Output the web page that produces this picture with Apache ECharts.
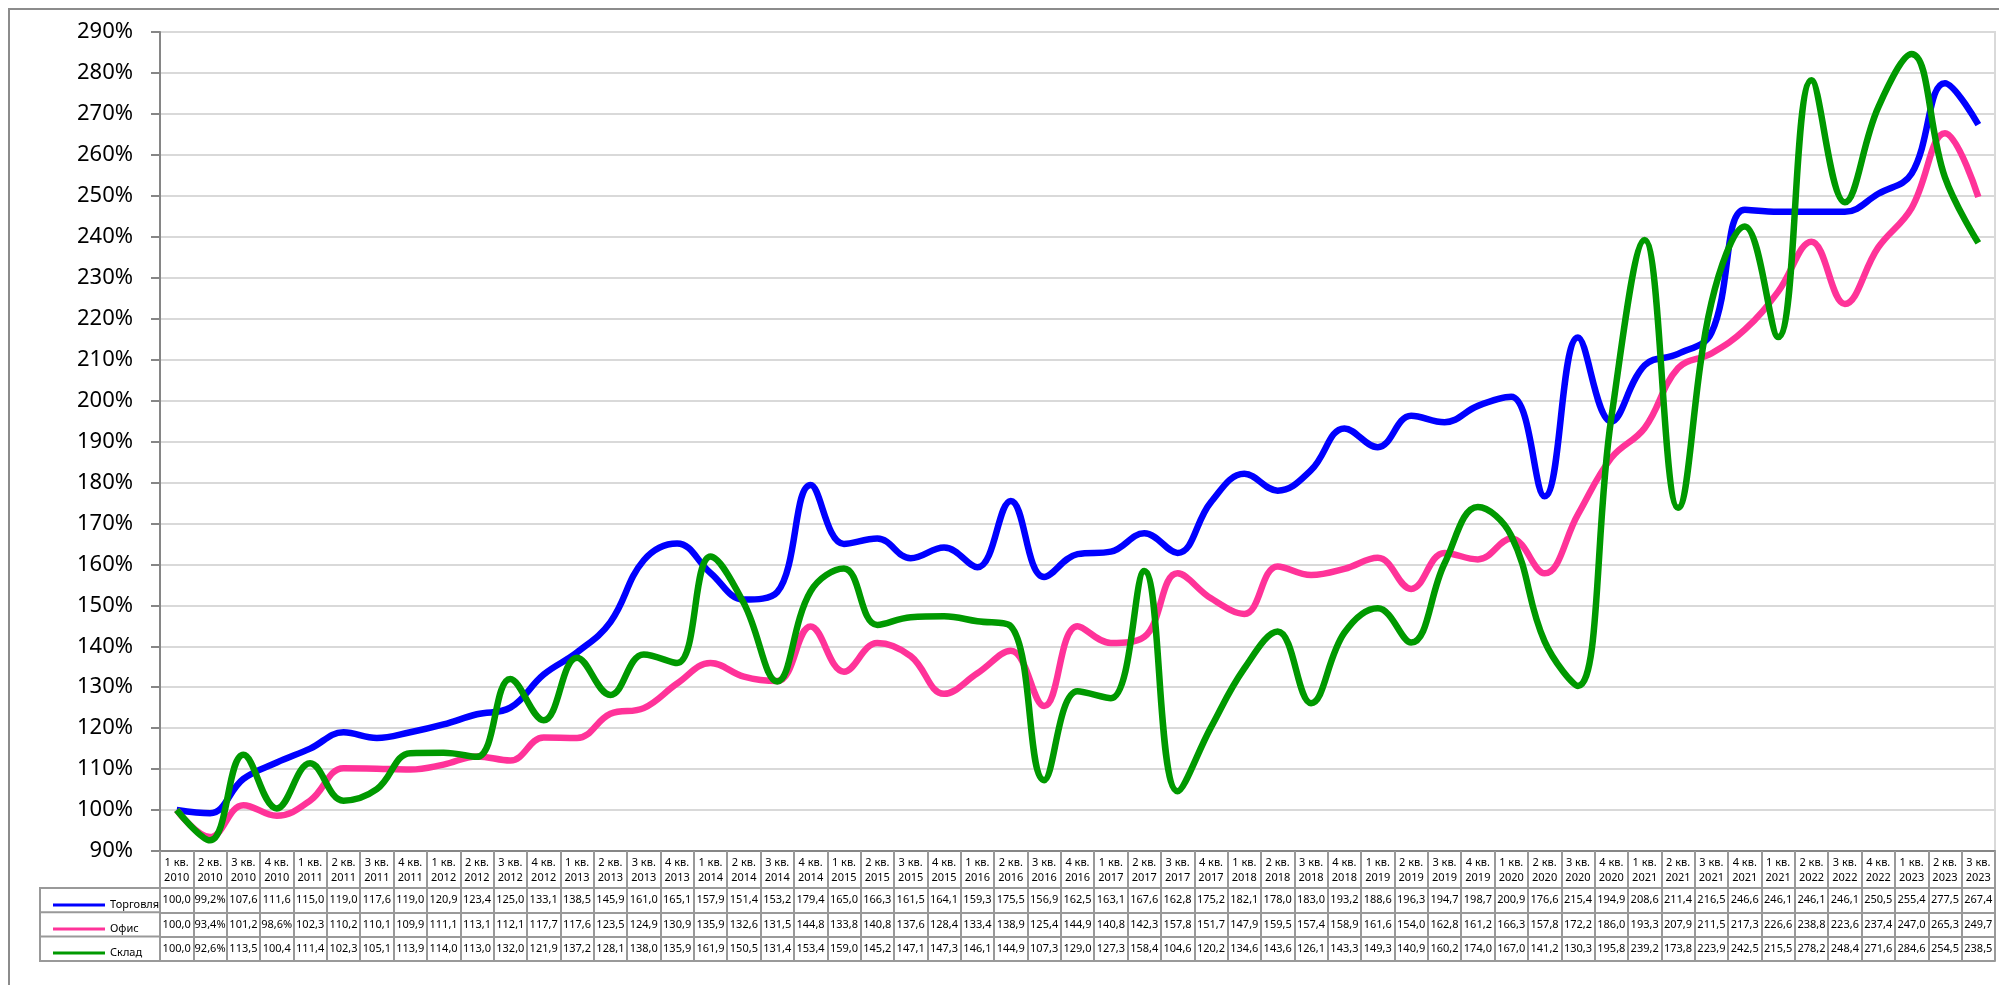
<!DOCTYPE html>
<html lang="ru">
<head>
<meta charset="utf-8">
<title>Индексы стоимости: торговля, офис, склад</title>
<script src="https://cdn.jsdelivr.net/npm/echarts@6/dist/echarts.min.js"></script>
<style>
  html, body { margin: 0; padding: 0; background: #fff; }
  #chart { width: 1999px; height: 985px; }
</style>
</head>
<body>
<div id="chart"></div>
<script>
const CATEGORIES = [
  "1 кв. 2010", "2 кв. 2010", "3 кв. 2010", "4 кв. 2010",
  "1 кв. 2011", "2 кв. 2011", "3 кв. 2011", "4 кв. 2011",
  "1 кв. 2012", "2 кв. 2012", "3 кв. 2012", "4 кв. 2012",
  "1 кв. 2013", "2 кв. 2013", "3 кв. 2013", "4 кв. 2013",
  "1 кв. 2014", "2 кв. 2014", "3 кв. 2014", "4 кв. 2014",
  "1 кв. 2015", "2 кв. 2015", "3 кв. 2015", "4 кв. 2015",
  "1 кв. 2016", "2 кв. 2016", "3 кв. 2016", "4 кв. 2016",
  "1 кв. 2017", "2 кв. 2017", "3 кв. 2017", "4 кв. 2017",
  "1 кв. 2018", "2 кв. 2018", "3 кв. 2018", "4 кв. 2018",
  "1 кв. 2019", "2 кв. 2019", "3 кв. 2019", "4 кв. 2019",
  "1 кв. 2020", "2 кв. 2020", "3 кв. 2020", "4 кв. 2020",
  "1 кв. 2021", "2 кв. 2021", "3 кв. 2021", "4 кв. 2021",
  "1 кв. 2021", "2 кв. 2022", "3 кв. 2022", "4 кв. 2022",
  "1 кв. 2023", "2 кв. 2023", "3 кв. 2023",
];

const SERIES_NAMES = ["Торговля", "Офис", "Склад"];

const TRADE = [
  100.0, 99.2, 107.6, 111.6, 115.0, 119.0, 117.6, 119.0,
  120.9, 123.4, 125.0, 133.1, 138.5, 145.9, 161.0, 165.1,
  157.9, 151.4, 153.2, 179.4, 165.0, 166.3, 161.5, 164.1,
  159.3, 175.5, 156.9, 162.5, 163.1, 167.6, 162.8, 175.2,
  182.1, 178.0, 183.0, 193.2, 188.6, 196.3, 194.7, 198.7,
  200.9, 176.6, 215.4, 194.9, 208.6, 211.4, 216.5, 246.6,
  246.1, 246.1, 246.1, 250.5, 255.4, 277.5, 267.4,
];

const OFFICE = [
  100.0, 93.4, 101.2, 98.6, 102.3, 110.2, 110.1, 109.9,
  111.1, 113.1, 112.1, 117.7, 117.6, 123.5, 124.9, 130.9,
  135.9, 132.6, 131.5, 144.8, 133.8, 140.8, 137.6, 128.4,
  133.4, 138.9, 125.4, 144.9, 140.8, 142.3, 157.8, 151.7,
  147.9, 159.5, 157.4, 158.9, 161.6, 154.0, 162.8, 161.2,
  166.3, 157.8, 172.2, 186.0, 193.3, 207.9, 211.5, 217.3,
  226.6, 238.8, 223.6, 237.4, 247.0, 265.3, 249.7,
];

const WAREHOUSE = [
  100.0, 92.6, 113.5, 100.4, 111.4, 102.3, 105.1, 113.9,
  114.0, 113.0, 132.0, 121.9, 137.2, 128.1, 138.0, 135.9,
  161.9, 150.5, 131.4, 153.4, 159.0, 145.2, 147.1, 147.3,
  146.1, 144.9, 107.3, 129.0, 127.3, 158.4, 104.6, 120.2,
  134.6, 143.6, 126.1, 143.3, 149.3, 140.9, 160.2, 174.0,
  167.0, 141.2, 130.3, 195.8, 239.2, 173.8, 223.9, 242.5,
  215.5, 278.2, 248.4, 271.6, 284.6, 254.5, 238.5,
];

const SERIES_VALUES = [TRADE, OFFICE, WAREHOUSE];
const SERIES_COLORS = ["#0000ff", "#ff3399", "#009900"];

const Y_MIN = 90;
const Y_MAX = 290;
const Y_STEP = 10;

const FONT = "'Noto Sans', 'DejaVu Sans', sans-serif";
const AXIS_GRAY = "#868686";
const GRID_GRAY = "#d9d9d9";
const CELL_GRAY = "#999999";

// layout of the plot and the data table under it
const GRID_LEFT = 160;
const GRID_RIGHT = 4;
const GRID_TOP = 32;
const GRID_BOTTOM = 134;
const HEADER_H = 37;
const ROW_H = 24.3;
const LEGEND_COL_X = 40;

function formatCell(value) {
  const text = value.toFixed(1).replace(".", ",");
  return value < 100 ? `${text}%` : text;
}

function headerLabel(value) {
  return value.replace(/ (\d{4})$/, "\n$1");
}

function rowAxis(offset, values, withLabels) {
  return {
    type: "category",
    data: CATEGORIES,
    position: "bottom",
    offset,
    axisLine: { show: true, lineStyle: { color: CELL_GRAY, width: 2 } },
    axisTick: {
      show: withLabels,
      interval: 0,
      length: ROW_H,
      lineStyle: { color: CELL_GRAY, width: 2 },
    },
    axisLabel: {
      show: withLabels,
      interval: 0,
      margin: ROW_H / 2,
      verticalAlign: "middle",
      fontFamily: FONT,
      fontSize: 11,
      color: "#000",
      formatter: (value, index) => (values ? formatCell(values[index]) : ""),
    },
    splitLine: { show: false },
  };
}

const chartHeight = 985;
const tableTop = chartHeight - GRID_BOTTOM + HEADER_H;

const chart = echarts.init(document.getElementById("chart"), null, { renderer: "canvas" });

chart.setOption({
  animation: false,
  backgroundColor: "#fff",
  textStyle: { fontFamily: FONT },
  grid: {
    left: GRID_LEFT,
    right: GRID_RIGHT,
    top: GRID_TOP,
    bottom: GRID_BOTTOM,
    show: true,
    borderColor: GRID_GRAY,
    borderWidth: 2,
    containLabel: false,
  },
  legend: {
    orient: "vertical",
    left: LEGEND_COL_X + 8,
    top: tableTop + 4,
    icon: "rect",
    itemWidth: 52,
    itemHeight: 3,
    itemGap: 8,
    textStyle: { fontFamily: FONT, fontSize: 11, color: "#000", lineHeight: 16 },
    data: SERIES_NAMES,
    selectedMode: false,
  },
  xAxis: [
    {
      type: "category",
      data: CATEGORIES,
      position: "bottom",
      axisLine: { show: true, lineStyle: { color: AXIS_GRAY, width: 2 } },
      axisTick: {
        show: true,
        interval: 0,
        length: HEADER_H,
        lineStyle: { color: CELL_GRAY, width: 2 },
      },
      axisLabel: {
        interval: 0,
        margin: 19,
        verticalAlign: "middle",
        lineHeight: 15,
        fontFamily: FONT,
        fontSize: 11,
        color: "#000",
        formatter: headerLabel,
      },
      splitLine: { show: false },
    },
    rowAxis(HEADER_H, TRADE, true),
    rowAxis(HEADER_H + ROW_H, OFFICE, true),
    rowAxis(HEADER_H + ROW_H * 2, WAREHOUSE, true),
    rowAxis(HEADER_H + ROW_H * 3, null, false),
  ],
  yAxis: {
    type: "value",
    min: Y_MIN,
    max: Y_MAX,
    interval: Y_STEP,
    axisLine: { show: true, lineStyle: { color: AXIS_GRAY, width: 2 } },
    axisTick: { show: true, length: 9, lineStyle: { color: AXIS_GRAY, width: 2 } },
    axisLabel: {
      margin: 27,
      fontFamily: FONT,
      fontSize: 22,
      color: "#000",
      formatter: (value) => `${value}%`,
    },
    splitLine: { show: true, lineStyle: { color: GRID_GRAY, width: 2 } },
  },
  series: SERIES_NAMES.map((name, i) => ({
    name,
    type: "line",
    data: SERIES_VALUES[i],
    smooth: 0.4,
    symbol: "none",
    color: SERIES_COLORS[i],
    lineStyle: { color: SERIES_COLORS[i], width: 6.5 },
    z: 3 + i,
  })),
  graphic: [
    {
      type: "rect",
      silent: true,
      shape: { x: 9, y: 9, width: 2400, height: 2400 },
      style: { fill: "none", stroke: "#8c8c8c", lineWidth: 2 },
      z: -1,
    },
    {
      type: "rect",
      silent: true,
      shape: { x: LEGEND_COL_X, y: tableTop, width: GRID_LEFT - LEGEND_COL_X, height: ROW_H * 3 },
      style: { fill: "none", stroke: CELL_GRAY, lineWidth: 2 },
    },
    {
      type: "line",
      silent: true,
      shape: { x1: LEGEND_COL_X, y1: tableTop + ROW_H, x2: GRID_LEFT, y2: tableTop + ROW_H },
      style: { stroke: CELL_GRAY, lineWidth: 2 },
    },
    {
      type: "line",
      silent: true,
      shape: { x1: LEGEND_COL_X, y1: tableTop + ROW_H * 2, x2: GRID_LEFT, y2: tableTop + ROW_H * 2 },
      style: { stroke: CELL_GRAY, lineWidth: 2 },
    },
  ],
});
</script>
</body>
</html>
